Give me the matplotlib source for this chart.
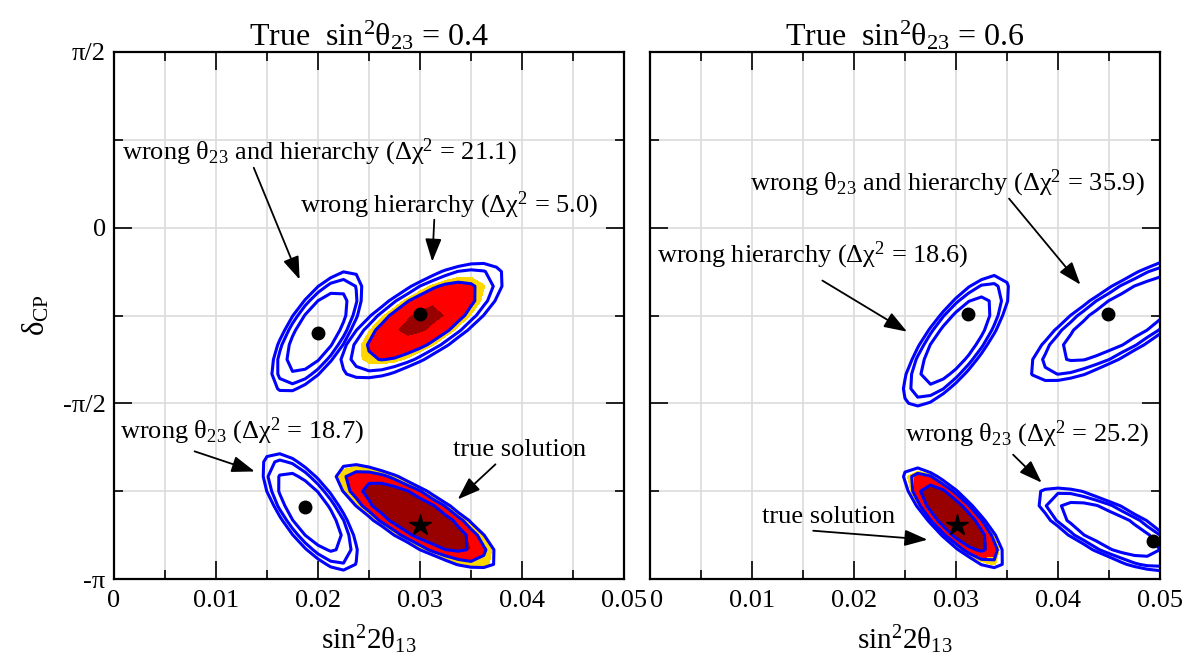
import numpy as np
import matplotlib
matplotlib.use("Agg")
import matplotlib.pyplot as plt

plt.rcParams["font.family"] = ["Liberation Serif", "DejaVu Serif"]
plt.rcParams["mathtext.fontset"] = "custom"
plt.rcParams["mathtext.rm"] = "Liberation Serif"
plt.rcParams["mathtext.it"] = "Liberation Serif"
plt.rcParams["mathtext.default"] = "rm"

PI = np.pi

panel_titles = [r"True  sin$^2\theta_{23}$ = 0.4", r"True  sin$^2\theta_{23}$ = 0.6"]
x_ticks = [0, 0.01, 0.02, 0.03, 0.04, 0.05]
x_tick_labels = ["0", "0.01", "0.02", "0.03", "0.04", "0.05"]
y_ticks = [-PI, -PI / 2, 0, PI / 2]
y_tick_labels = ["-\u03c0", "-\u03c0/2", "0", "\u03c0/2"]

# outer blue contour of each allowed region: centre, half extent in x / y, correlation
# left panel: wrong th23+hier, wrong hier, wrong th23, true
left_cx = [0.0199, 0.0302, 0.0192, 0.0296]
left_cy = [-0.93, -0.83, -2.54, -2.58]
left_hx = [0.0045, 0.0080, 0.0047, 0.0079]
left_hy = [0.54, 0.52, 0.53, 0.47]
left_rho = [0.68, 0.72, -0.72, -0.80]
# right panel: wrong hier, wrong th23+hier, wrong th23, true
right_cx = [0.0300, 0.0466, 0.0451, 0.0298]
right_cy = [-1.01, -0.80, -2.70, -2.59]
right_hx = [0.0052, 0.0093, 0.0072, 0.0050]
right_hy = [0.59, 0.58, 0.38, 0.46]
right_rho = [0.76, 0.80, -0.74, -0.82]

# blue lines: radius of each contour relative to the outer one
blue_radii = [0.68, 0.88, 1.0]

# filled regions (index into region list) and radii of dark red / red / yellow edges
left_fill_idx = [1, 3]
left_fill_radii = [[0.33, 0.68, 0.77], [0.70, 0.89, 0.97]]
right_fill_idx = [3]
right_fill_radii = [[0.72, 0.86, 0.93]]

# best fit points
left_dot_x = [0.0200, 0.0300, 0.0187]
left_dot_y = [-0.94, -0.77, -2.50]
left_star = (0.0300, -2.66)
right_dot_x = [0.0312, 0.0449, 0.0493]
right_dot_y = [-0.77, -0.77, -2.80]
right_star = (0.0301, -2.66)

# labels: text, text position (left, centre), arrow tail, arrow head
left_labels = [
    r"wrong $\theta_{23}$ and hierarchy ($\Delta\chi^2$ = 21.1)",
    r"wrong hierarchy ($\Delta\chi^2$ = 5.0)",
    r"wrong $\theta_{23}$ ($\Delta\chi^2$ = 18.7)",
    "true solution",
]
left_text_xy = [(0.0008, 0.67), (0.0182, 0.20), (0.0006, -1.82), (0.0332, -1.99)]
left_tail = [(0.0137, 0.536), (0.0314, 0.071), (0.0079, -2.00), (0.0374, -2.116)]
left_head = [(0.0182, -0.464), (0.0312, -0.304), (0.0138, -2.18), (0.0337, -2.43)]

right_labels = [
    r"wrong $\theta_{23}$ and hierarchy ($\Delta\chi^2$ = 35.9)",
    r"wrong hierarchy ($\Delta\chi^2$ = 18.6)",
    r"wrong $\theta_{23}$ ($\Delta\chi^2$ = 25.2)",
    "true solution",
]
right_text_xy = [(0.0098, 0.40), (0.0007, -0.25), (0.0250, -1.85), (0.0110, -2.59)]
right_tail = [(0.0352, 0.26), (0.0169, -0.473), (0.0356, -2.03), (0.0160, -2.71)]
right_head = [(0.0422, -0.51), (0.0252, -0.93), (0.0384, -2.28), (0.0272, -2.79)]

fill_colors = ["#990000", "#ff0000", "#ffd700"]

xg = np.linspace(0, 0.05, 41)
yg = np.linspace(-PI, PI / 2, 37)
X, Y = np.meshgrid(xg, yg)


def quad(cx, cy, hx, hy, rho):
    u = (X - cx) / hx
    v = (Y - cy) / hy
    return (u * u - 2 * rho * u * v + v * v) / (1 - rho * rho)


def draw_panel(ax, cx, cy, hx, hy, rho, fill_idx, fill_radii):
    for i, r in zip(fill_idx, fill_radii):
        q = quad(cx[i], cy[i], hx[i], hy[i], rho[i])
        lv = [0] + [s * s for s in r]
        ax.contourf(X, Y, q, levels=lv, colors=fill_colors, zorder=2)
    for i in range(len(cx)):
        q = quad(cx[i], cy[i], hx[i], hy[i], rho[i])
        ax.contour(X, Y, q, levels=[s * s for s in blue_radii], colors="#0000ff",
                   linewidths=2.2, zorder=3)


fig = plt.figure(figsize=(11.96, 6.64), dpi=100)
ax1 = fig.add_axes([114 / 1196, 85 / 664, 510 / 1196, 527 / 664])
ax2 = fig.add_axes([650 / 1196, 85 / 664, 510 / 1196, 527 / 664])

draw_panel(ax1, left_cx, left_cy, left_hx, left_hy, left_rho, left_fill_idx, left_fill_radii)
draw_panel(ax2, right_cx, right_cy, right_hx, right_hy, right_rho, right_fill_idx, right_fill_radii)

ax1.plot(left_dot_x, left_dot_y, "o", color="k", ms=9, zorder=5)
ax1.plot(*left_star, "*", color="k", ms=16, zorder=5)
ax2.plot(right_dot_x, right_dot_y, "o", color="k", ms=9, zorder=5)
ax2.plot(*right_star, "*", color="k", ms=16, zorder=5)

for ax, labels, txy, tails, heads in [(ax1, left_labels, left_text_xy, left_tail, left_head),
                                      (ax2, right_labels, right_text_xy, right_tail, right_head)]:
    for lab, t, a, b in zip(labels, txy, tails, heads):
        ax.text(t[0], t[1], lab, fontsize=19, ha="left", va="center", zorder=6)
        ax.annotate("", xy=b, xytext=a,
                    arrowprops=dict(arrowstyle="-|>,head_length=0.7,head_width=0.25",
                                    color="k", lw=1.3, mutation_scale=20,
                                    shrinkA=0, shrinkB=0),
                    zorder=6)

for k, (ax, title) in enumerate(zip([ax1, ax2], panel_titles)):
    ax.set_xlim(0, 0.05)
    ax.set_ylim(-PI, PI / 2)
    ax.set_xticks(x_ticks)
    ax.set_xticklabels(x_tick_labels)
    ax.set_xticks(np.arange(0.005, 0.05, 0.01), minor=True)
    ax.set_yticks(y_ticks)
    ax.set_yticks([-3 * PI / 4, -PI / 4, PI / 4], minor=True)
    if k == 0:
        ax.set_yticklabels(y_tick_labels)
        ax.set_ylabel(r"$\delta_{CP}$", fontsize=22, labelpad=8)
    else:
        ax.set_yticklabels([])
    ax.tick_params(which="both", direction="in", top=True, right=True,
                   width=1.2, labelsize=19, colors="k")
    ax.tick_params(axis="x", which="major", length=13, pad=8)
    ax.tick_params(axis="y", which="major", length=13, pad=6)
    ax.tick_params(which="minor", length=6.5)
    ax.grid(which="both", color="#dcdcdc", lw=1.2, zorder=0)
    ax.set_axisbelow(True)
    for s in ax.spines.values():
        s.set_linewidth(1.6)
        s.set_zorder(7)
    ax.set_title(title, fontsize=23, pad=4)
    ax.set_xlabel(r"sin$^2$2$\theta_{13}$", fontsize=21, labelpad=8)

# right panel "0" sits just after the left panel "0.05", as in the original
ax2.get_xticklabels()[0].set_horizontalalignment("left")

fig.savefig("out.png", dpi=100)
